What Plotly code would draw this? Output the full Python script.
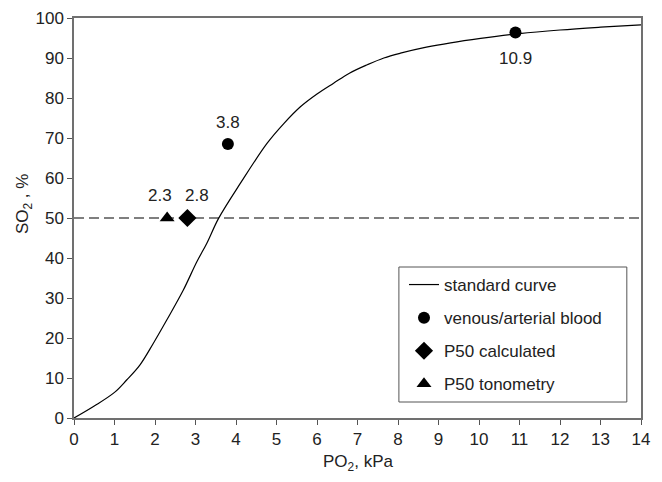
import plotly.graph_objects as go

# Standard oxygen dissociation curve
curve_po2 = [0.0, 0.5, 1.0, 1.3, 1.63, 1.96, 2.29, 2.7, 3.03, 3.28, 3.57, 4.11, 4.77,
             5.18, 5.59, 6.0, 6.41, 6.8, 7.24, 7.65, 8.06, 8.7, 9.3, 10.04, 11.0, 12.0, 13.0, 14.0]
curve_so2 = [0.0, 3.0, 6.4, 9.5, 13.3, 18.7, 24.5, 32.0, 39.0, 43.7, 49.9, 58.7, 68.7,
             73.6, 77.8, 81.0, 83.7, 86.2, 88.3, 90.0, 91.2, 92.7, 93.8, 94.9, 96.1, 97.0, 97.7, 98.3]

blood_po2 = [3.8, 10.9]
blood_so2 = [68.5, 96.4]
blood_labels = ["3.8", "10.9"]

calc_po2 = [2.8]
calc_so2 = [50.0]
calc_labels = ["2.8"]

tono_po2 = [2.3]
tono_so2 = [50.0]
tono_labels = ["2.3"]

p50_level = 50
x_ticks = list(range(0, 15))
y_ticks = list(range(0, 101, 10))

FONT = "Liberation Sans, Arial, sans-serif"
TXT = "#222"

fig = go.Figure()
fig.add_trace(go.Scatter(x=curve_po2, y=curve_so2, mode="lines",
                         line=dict(color="black", width=1.2, shape="spline", smoothing=1.0),
                         name="standard curve", legendgroup="a"))
fig.add_trace(go.Scatter(x=blood_po2, y=blood_so2, mode="markers",
                         marker=dict(symbol="circle", size=12, color="black"),
                         name="venous/arterial blood", legendgroup="b"))
fig.add_trace(go.Scatter(x=calc_po2, y=calc_so2, mode="markers",
                         marker=dict(symbol="diamond", size=14, color="black"),
                         name="P50 calculated", legendgroup="c"))
fig.add_trace(go.Scatter(x=tono_po2, y=tono_so2, mode="markers",
                         marker=dict(symbol="triangle-up", size=13, color="black"),
                         name="P50 tonometry", legendgroup="d"))

fig.add_hline(y=p50_level, line=dict(color="black", width=1.2, dash="10px,5px"), layer="below")

label_specs = [
    (blood_po2[0], blood_so2[0], blood_labels[0], 0, 22),
    (blood_po2[1], blood_so2[1], blood_labels[1], 0, -26),
    (calc_po2[0], calc_so2[0], calc_labels[0], 10, 23),
    (tono_po2[0], tono_so2[0], tono_labels[0], -7, 23),
]
for x, y, t, xs, ys in label_specs:
    fig.add_annotation(x=x, y=y, text=t, showarrow=False, xshift=xs, yshift=ys,
                       font=dict(family=FONT, size=17, color=TXT))

# axis titles
fig.add_annotation(xref="paper", yref="paper", x=-0.088, y=0.535, text="SO<sub>2</sub> , %",
                   textangle=-90, showarrow=False, xanchor="center", yanchor="middle",
                   font=dict(family=FONT, size=17, color=TXT))
fig.add_annotation(xref="paper", yref="paper", x=0.5, y=-0.1125, text="PO<sub>2</sub>, kPa",
                   showarrow=False, xanchor="center", yanchor="middle",
                   font=dict(family=FONT, size=17, color=TXT))

# legend frame
fig.add_shape(type="rect", xref="paper", yref="paper", x0=0.573, x1=0.975, y0=0.04, y1=0.3775,
              line=dict(color="#555", width=1), fillcolor="white", layer="above")

axis_common = dict(showgrid=False, zeroline=False, showline=True, linecolor="#707070", linewidth=1.5,
                   mirror=True, ticks="outside", ticklen=5, tickcolor="#555", tickwidth=1,
                   tickfont=dict(family=FONT, size=17, color=TXT), automargin=False)
fig.update_xaxes(range=[0, 14], tickvals=x_ticks, **axis_common)
fig.update_yaxes(range=[0, 100], tickvals=y_ticks, **axis_common)

fig.update_layout(
    width=654, height=474,
    margin=dict(l=66, r=21, t=10, b=64),
    plot_bgcolor="white", paper_bgcolor="white",
    showlegend=True,
    legend=dict(x=0.582, y=0.3775, xanchor="left", yanchor="top", borderwidth=0,
                bgcolor="rgba(0,0,0,0)", font=dict(family=FONT, size=17, color=TXT),
                traceorder="grouped", tracegroupgap=8, itemwidth=30),
)

fig.write_html("out.html")
